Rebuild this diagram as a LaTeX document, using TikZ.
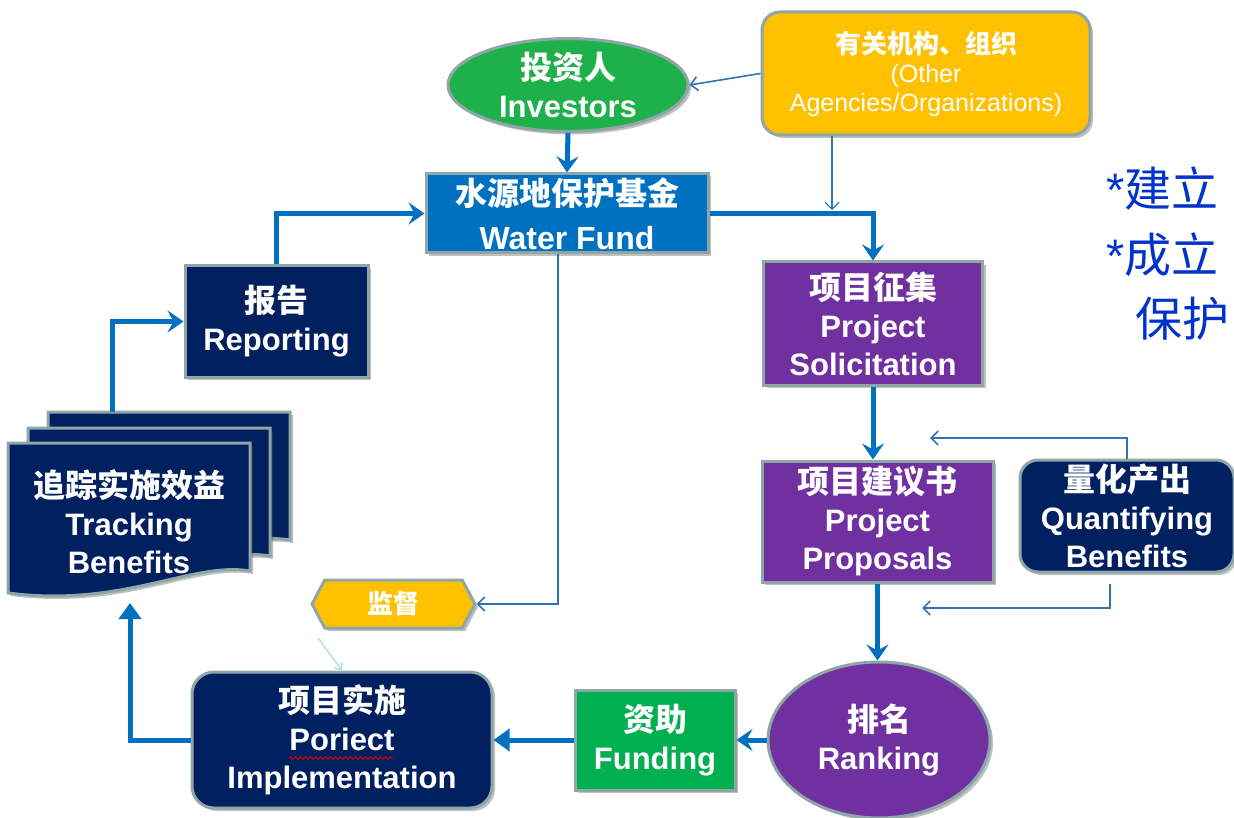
\documentclass[tikz,border=0pt]{standalone}
\usepackage{fontspec}
\setmainfont{Liberation Sans}
\newfontfamily\cjk{Noto Sans CJK SC}
\usetikzlibrary{arrows.meta,shapes.geometric,shapes.symbols,shadows,decorations.pathmorphing,calc}
\definecolor{arrowblue}{HTML}{0070C0}
\definecolor{thinblue}{HTML}{2E75B6}
\definecolor{invgreen}{HTML}{1DB04B}
\definecolor{fundgreen}{HTML}{00B050}
\definecolor{gold}{HTML}{FFC000}
\definecolor{purp}{HTML}{7030A0}
\definecolor{navy}{HTML}{002060}
\definecolor{rim}{HTML}{8FA6A8}
\definecolor{sideblue}{HTML}{0033CC}
\definecolor{paleblue}{HTML}{A8D8E0}
\newcommand\zh[1]{{\cjk\fontsize{32}{38}\selectfont #1}}
\tikzset{
  shad/.style={drop shadow={shadow xshift=3pt,shadow yshift=-3pt,opacity=.35,fill=black!70}},
  box/.style={draw=rim, line width=3pt, text=white, align=center, inner sep=0pt,
    font=\bfseries\fontsize{31}{38}\selectfont, shad},
  thick arrow/.style={draw=arrowblue, line width=5pt, -{Stealth[length=16pt,width=22pt,inset=6pt]}},
  tri arrow/.style={draw=arrowblue, line width=5pt, -{Triangle[length=16pt,width=22pt]}},
  thin arrow/.style={draw=thinblue, line width=1.6pt, -{Straight Barb[length=7pt,width=14pt]}},
  docpage/.pic={\path[fill=navy, draw=rim, line width=3pt, shad]
     (0,0) -- (242,0) -- (242,128) .. controls (185,118) and (115,165) .. (0,150) -- cycle;},
  side/.style={text=sideblue, anchor=base west, inner sep=0pt, font=\fontsize{47}{52}\selectfont}
}
\begin{document}
\begin{tikzpicture}[x=1pt,y=-1pt]
\useasboundingbox (0,0) rectangle (1234,818);
\fill[white] (0,0) rectangle (1234,818);

% right side text
\node[side] (s1) at (1106,207) {*{\cjk 建立}};
\node[side] (s2) at (1106,273) {*{\cjk 成立}};
\node[side] (s3) at (1135,336) {{\cjk 保护}};

% nodes
\node[box, ellipse, fill=invgreen, minimum width=240pt, minimum height=80pt] (inv) at (568,85)
  {\zh{投资人}\\Investors};
\node[box, fill=gold, rounded corners=18pt, minimum width=328pt, minimum height=123pt,
  font=\bfseries\fontsize{25}{29}\selectfont] (agn) at (926,73.5)
  {{\cjk\fontsize{26}{29}\selectfont 有关机构、组织}\\\mdseries (Other\\\mdseries Agencies/Organizations)};
\node[box, fill=arrowblue, minimum width=282pt, minimum height=79pt] (wf) at (567,213.5)
  {\zh{水源地保护基金}\\[6pt]\fontsize{32}{38}\selectfont Water Fund};
\node[box, fill=purp, minimum width=219pt, minimum height=123pt] (sol) at (873,323.5)
  {\zh{项目征集}\\Project\\Solicitation};
\node[box, fill=purp, minimum width=231pt, minimum height=121pt] (prop) at (877.5,521.5)
  {\zh{项目建议书}\\Project\\Proposals};
\node[box, fill=navy, rounded corners=18pt, minimum width=214pt, minimum height=112pt] (qb) at (1127,516)
  {\zh{量化产出}\\Quantifying\\Benefits};
\node[box, ellipse, fill=purp, minimum width=222pt, minimum height=156pt] (rank) at (879,740)
  {\zh{排名}\\Ranking};
\node[box, fill=fundgreen, minimum width=160pt, minimum height=100pt] (fund) at (655,740)
  {\zh{资助}\\Funding};
\node[box, fill=navy, rounded corners=22pt, minimum width=300pt, minimum height=136pt] (impl) at (342,740)
  {\zh{项目实施}\\Poriect\\Implementation};
\node[box, fill=navy, minimum width=183pt, minimum height=111pt] (rep) at (276.5,321.5)
  {\zh{报告}\\Reporting};
\node[box, signal, signal to=east and west, signal pointer angle=124, fill=gold,
  minimum width=163pt, minimum height=48pt] (mon) at (393.5,604)
  {{\cjk\fontsize{26}{29}\selectfont 监督}};

% tracking benefits: stacked documents
\pic at (48,412) {docpage};
\pic at (28,428) {docpage};
\pic at (8,443) {docpage};
\node[text=white, align=center, inner sep=0pt, font=\bfseries\fontsize{31}{38}\selectfont] (trk) at (129,522)
  {\zh{追踪实施效益}\\Tracking\\Benefits};

% red wavy underline under misspelling
\draw[red, line width=0.8pt, decorate, decoration={snake, amplitude=1.3pt, segment length=5pt}]
  ($(impl.center)+(-53,18)$) -- ++(104,0);

% coordinates for free ends
\coordinate (agnend) at (832,210);
\coordinate (qin1) at (930,438);
\coordinate (qin2) at (922,608);
\coordinate (trkb) at (130,603);
\coordinate (trkt) at (112,412);
\coordinate (lt) at (318,638);

% connectors
\draw[thick arrow] (inv.south) -- (wf.north);
\draw[thin arrow] (agn.west) -- (inv.east);
\draw[thin arrow, line width=1.2pt] (agn.south -| agnend) -- (agnend);
\draw[thick arrow] (wf.east) -| (sol.north);
\draw[thick arrow] (sol.south) -- (sol.south |- prop.north);
\draw[thin arrow] (qb.north) |- (qin1);
\draw[thin arrow] ([xshift=-17pt,yshift=-10pt]qb.south) |- (qin2);
\draw[thick arrow] (prop.south) -- (prop.south |- rank.north);
\draw[thick arrow] (rank.west) -- (fund.east);
\draw[tri arrow] (fund.west) -- (impl.east);
\draw[tri arrow] (impl.west) -| (trkb);
\draw[thick arrow] (trkt) |- (rep.west);
\draw[thick arrow] (rep.north) |- (wf.west);
\draw[thin arrow] ([xshift=-9pt]wf.south) |- (mon.east);
\draw[draw=paleblue, line width=1.2pt, -{Straight Barb[length=6pt,width=10pt]}] (lt) -- (impl.north);
\end{tikzpicture}
\end{document}
